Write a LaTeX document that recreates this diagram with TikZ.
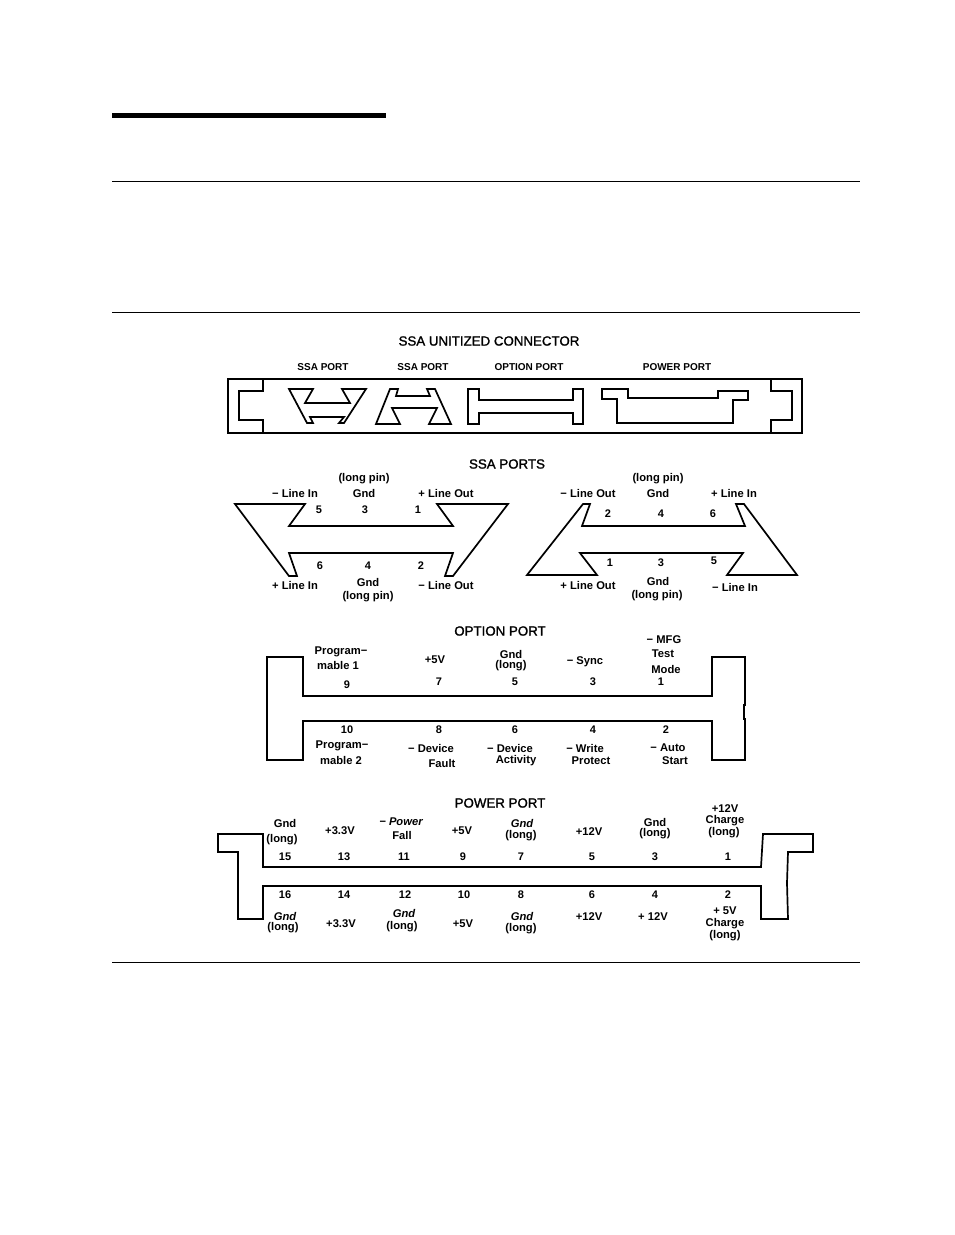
\documentclass[tikz,border=0pt]{standalone}
\usepackage{fontspec}
\setmainfont{Liberation Sans}
\newfontfamily\ttl[FakeBold=1.4]{Liberation Sans}
\tikzset{
  x=1pt,y=-1pt,
  outline/.style={draw=black,line width=1.7pt,line join=miter},
  rulel/.style={draw=black,line width=1pt},
  lab/.style={inner sep=0pt,font=\fontsize{11.2}{13}\bfseries\selectfont},
  ital/.style={inner sep=0pt,font=\fontsize{11.2}{13}\bfseries\itshape\selectfont},
  pin/.style={inner sep=0pt,font=\fontsize{11}{13}\bfseries\selectfont},
  sub/.style={inner sep=0pt,font=\fontsize{10}{12}\bfseries\selectfont},
  head/.style={inner sep=0pt,font=\fontsize{13.3}{15}\ttl\selectfont}
}
\begin{document}
\begin{tikzpicture}
\useasboundingbox (0,0) rectangle (954,1235);
\fill[black] (112,113) rectangle (386,118);
\draw[rulel] (112,181.5) -- (860,181.5);
\draw[rulel] (112,312.5) -- (860,312.5);
\draw[rulel] (112,962.5) -- (860,962.5);
% unitized connector
\draw[outline] (228,379) rectangle (802,433);
\draw[outline] (263,379) -- (263,391) -- (239,391) -- (239,420) -- (263,420) -- (263,433);
\draw[outline] (771,379) -- (771,391) -- (792,391) -- (792,420) -- (771,420) -- (771,433);
\draw[outline] (289,389) -- (313,389) -- (305,403) -- (350,403) -- (342,389) -- (366,389) -- (344,423) -- (339,423) -- (344,417) -- (310,417) -- (313,423) -- (307,423) -- cycle;
\draw[outline] (376,424) -- (390,389) -- (398,389) -- (396,396) -- (430,396) -- (427,389) -- (435,389) -- (451,424) -- (429,424) -- (437,408) -- (392,408) -- (400,424) -- cycle;
\draw[outline] (468,389) -- (479,389) -- (479,400) -- (573,400) -- (573,389) -- (583,389) -- (583,424) -- (573,424) -- (573,413) -- (479,413) -- (479,424) -- (468,424) -- cycle;
\draw[outline] (602,389) -- (628,389) -- (628,398) -- (718,398) -- (718,391) -- (748,391) -- (748,400) -- (733,400) -- (733,423) -- (617,423) -- (617,399) -- (602,399) -- cycle;
\node[head] (t1) at (489,341) {SSA UNITIZED CONNECTOR};
\node[sub] (t2) at (323,367) {SSA PORT};
\node[sub] (t3) at (423,367) {SSA PORT};
\node[sub] (t4) at (529,367) {OPTION PORT};
\node[sub] (t5) at (677,367) {POWER PORT};
% SSA ports
\node[head] (t6) at (507,464) {SSA PORTS};
\draw[outline] (235,504) -- (305,504) -- (289,526) -- (453,526) -- (437,504) -- (508,504) -- (453,576) -- (445,576) -- (453,553) -- (289,553) -- (297,576) -- (289,576) -- cycle;
\draw[outline] (527,575) -- (583,504) -- (590,504) -- (582,526) -- (745,526) -- (736,504) -- (744,504) -- (797,575) -- (727,575) -- (743,553) -- (580,553) -- (597,575) -- cycle;
\node[lab] (a1) at (364,479) {(long pin)};
\node[lab] (a2) at (295,493) {− Line In};
\node[lab] (a3) at (364,493) {Gnd};
\node[lab] (a4) at (446,493) {+ Line Out};
\node[pin] (a5) at (319,510) {5};
\node[pin] (a6) at (365,510) {3};
\node[pin] (a7) at (418,510) {1};
\node[pin] (a8) at (320,566) {6};
\node[pin] (a9) at (368,566) {4};
\node[pin] (a10) at (421,566) {2};
\node[lab] (a11) at (295,585) {+ Line In};
\node[lab] (a12) at (368,582) {Gnd};
\node[lab] (a13) at (446,585) {− Line Out};
\node[lab] (a14) at (368,597) {(long pin)};
\node[lab] (b1) at (658,479) {(long pin)};
\node[lab] (b2) at (588,493) {− Line Out};
\node[lab] (b3) at (658,493) {Gnd};
\node[lab] (b4) at (734,493) {+ Line In};
\node[pin] (b5) at (608,514) {2};
\node[pin] (b6) at (661,514) {4};
\node[pin] (b7) at (713,514) {6};
\node[pin] (b8) at (610,563) {1};
\node[pin] (b9) at (661,563) {3};
\node[pin] (b10) at (714,561) {5};
\node[lab] (b11) at (588,585) {+ Line Out};
\node[lab] (b12) at (658,581) {Gnd};
\node[lab] (b13) at (657,596) {(long pin)};
\node[lab] (b14) at (735,587) {− Line In};
% option port
\node[head] (t7) at (500,631) {OPTION PORT};
\draw[outline] (267,657) -- (303,657) -- (303,696) -- (712,696) -- (712,657) -- (745,657) -- (745,705) -- (744,705) -- (744,719) -- (745,719) -- (745,760) -- (712,760) -- (712,721) -- (303,721) -- (303,760) -- (267,760) -- cycle;
\node[lab] (c1) at (341,652) {Program−};
\node[lab] (c2) at (338,665) {mable 1};
\node[lab] (c3) at (435,660) {+5V};
\node[lab] (c4) at (511,654) {Gnd};
\node[lab] (c5) at (511,666) {(long)};
\node[lab] (c6) at (585,662) {− Sync};
\node[lab] (c7) at (664,640) {− MFG};
\node[lab] (c8) at (663,654) {Test};
\node[lab] (c9) at (666,669) {Mode};
\node[pin] (c10) at (347,685) {9};
\node[pin] (c11) at (439,682) {7};
\node[pin] (c12) at (515,682) {5};
\node[pin] (c13) at (593,682) {3};
\node[pin] (c14) at (661,682) {1};
\node[pin] (c15) at (347,730) {10};
\node[pin] (c16) at (439,730) {8};
\node[pin] (c17) at (515,730) {6};
\node[pin] (c18) at (593,730) {4};
\node[pin] (c19) at (666,730) {2};
\node[lab] (c20) at (342,746) {Program−};
\node[lab] (c21) at (341,760) {mable 2};
\node[lab] (c22) at (431,748) {− Device};
\node[lab] (c23) at (442,763) {Fault};
\node[lab] (c24) at (510,748) {− Device};
\node[lab] (c25) at (516,761) {Activity};
\node[lab] (c26) at (585,748) {− Write};
\node[lab] (c27) at (591,761) {Protect};
\node[lab] (c28) at (668,748) {− Auto};
\node[lab] (c29) at (675,761) {Start};
% power port
\node[head] (t8) at (500,803) {POWER PORT};
\draw[outline] (218,834) -- (263,834) -- (263,867) -- (761,867) -- (763,834) -- (813,834) -- (813,852) -- (788,852) -- (787,883) -- (788,919) -- (761,919) -- (761,886) -- (263,886) -- (263,919) -- (238,919) -- (238,852) -- (218,852) -- cycle;
\node[lab] (d1) at (285,823) {Gnd};
\node[lab] (d2) at (282,840) {(long)};
\node[lab] (d3) at (340,831) {+3.3V};
\node[ital] (d4) at (401,822) {− Power};
\node[lab] (d5) at (402,835) {Fall};
\node[lab] (d6) at (462,831) {+5V};
\node[ital] (d7) at (522,823) {Gnd};
\node[lab] (d8) at (521,836) {(long)};
\node[lab] (d9) at (589,832) {+12V};
\node[lab] (d10) at (655,822) {Gnd};
\node[lab] (d11) at (655,834) {(long)};
\node[lab] (d12) at (725,809) {+12V};
\node[lab] (d13) at (725,821) {Charge};
\node[lab] (d14) at (724,833) {(long)};
\node[pin] (e1) at (285,857) {15};
\node[pin] (e2) at (344,857) {13};
\node[pin] (e3) at (404,857) {11};
\node[pin] (e4) at (463,857) {9};
\node[pin] (e5) at (521,857) {7};
\node[pin] (e6) at (592,857) {5};
\node[pin] (e7) at (655,857) {3};
\node[pin] (e8) at (728,857) {1};
\node[pin] (e9) at (285,895) {16};
\node[pin] (e10) at (344,895) {14};
\node[pin] (e11) at (405,895) {12};
\node[pin] (e12) at (464,895) {10};
\node[pin] (e13) at (521,895) {8};
\node[pin] (e14) at (592,895) {6};
\node[pin] (e15) at (655,895) {4};
\node[pin] (e16) at (728,895) {2};
\node[ital] (f1) at (285,916) {Gnd};
\node[lab] (f2) at (283,928) {(long)};
\node[lab] (f3) at (341,924) {+3.3V};
\node[ital] (f4) at (404,913) {Gnd};
\node[lab] (f5) at (402,927) {(long)};
\node[lab] (f6) at (463,924) {+5V};
\node[ital] (f7) at (522,916) {Gnd};
\node[lab] (f8) at (521,929) {(long)};
\node[lab] (f9) at (589,917) {+12V};
\node[lab] (f10) at (653,917) {+ 12V};
\node[lab] (f11) at (725,911) {+ 5V};
\node[lab] (f12) at (725,924) {Charge};
\node[lab] (f13) at (725,936) {(long)};
\end{tikzpicture}
\end{document}
